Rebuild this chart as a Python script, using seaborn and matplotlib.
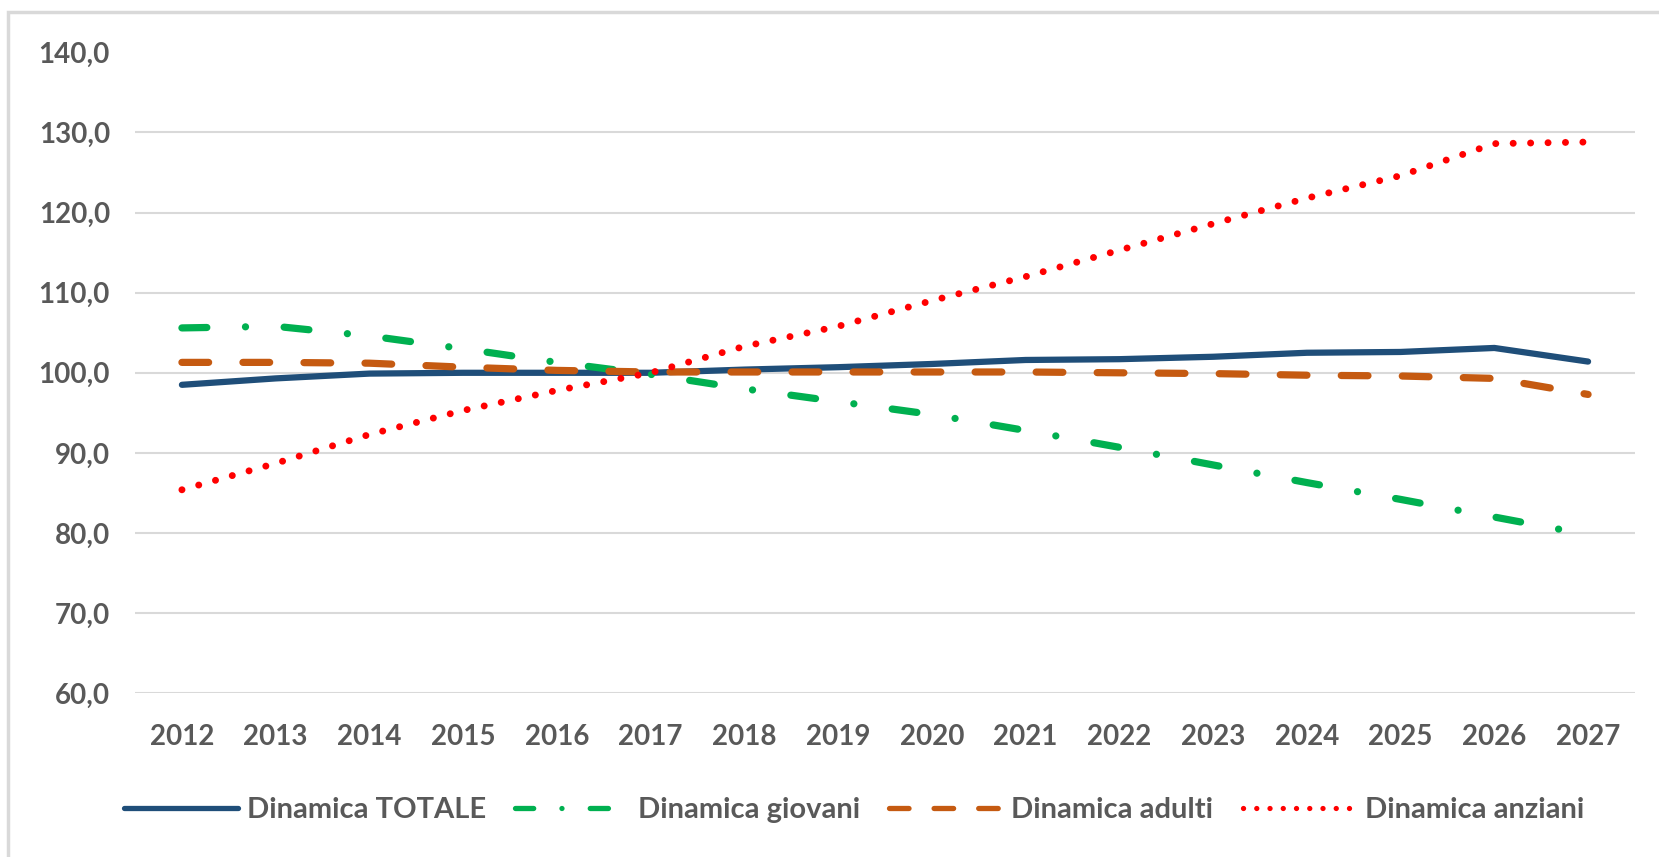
import seaborn as sns
import matplotlib.pyplot as plt
import matplotlib.patches as mpatches
import pandas as pd
import numpy as np

# --- Data ---
years = [str(y) for y in range(2012, 2028)]
totale = [98.5, 99.3, 99.9, 100.0, 100.0, 100.0, 100.4, 100.7, 101.1, 101.6,
          101.7, 102.0, 102.5, 102.6, 103.1, 101.4]
giovani = [105.6, 105.8, 104.6, 103.0, 101.3, 99.8, 98.0, 96.4, 94.8, 92.8,
           90.7, 88.5, 86.3, 84.2, 82.0, 79.8]
adulti = [101.3, 101.3, 101.2, 100.7, 100.3, 100.1, 100.1, 100.1, 100.1, 100.1,
          100.0, 99.9, 99.7, 99.6, 99.3, 97.3]
anziani = [85.4, 88.7, 92.3, 95.3, 97.8, 100.0, 103.3, 105.8, 109.0, 112.0,
           115.3, 118.6, 121.8, 124.6, 128.6, 128.8]

series_names = ["Dinamica TOTALE", "Dinamica giovani", "Dinamica adulti", "Dinamica anziani"]
series_vals = [totale, giovani, adulti, anziani]

df = pd.DataFrame({
    "Anno": np.tile(years, len(series_names)),
    "Valore": np.concatenate(series_vals),
    "Serie": np.repeat(series_names, len(years)),
})

palette = {
    "Dinamica TOTALE": "#1F4E79",
    "Dinamica giovani": "#00B050",
    "Dinamica adulti": "#C55A11",
    "Dinamica anziani": "#FF0000",
}
dashes = {
    "Dinamica TOTALE": "",
    "Dinamica giovani": (3.45, 5.35, 0.01, 5.35),
    "Dinamica adulti": (3.7, 4.75),
    "Dinamica anziani": (0.01, 2.5),
}
widths = {
    "Dinamica TOTALE": 4.5,
    "Dinamica giovani": 5.2,
    "Dinamica adulti": 5.2,
    "Dinamica anziani": 5.0,
}

# --- Styling ---
sns.set_style("white")
plt.rcParams["font.family"] = ["Lato", "DejaVu Sans"]
plt.rcParams["font.weight"] = "bold"
text_color = "#595959"
fs = 20

fig = plt.figure(figsize=(16.59, 8.57), dpi=100)
ax = fig.add_axes([0.0814, 0.191, 0.9041, 0.748])

sns.lineplot(data=df, x="Anno", y="Valore", hue="Serie", style="Serie",
             palette=palette, dashes=dashes, linewidth=4.5, ax=ax,
             sort=False, dash_capstyle="round", solid_capstyle="round")

for line, name in zip(ax.lines, series_names):
    line.set_linewidth(widths[name])

ax.set_ylim(60, 140)
ax.set_xlim(-0.5, len(years) - 0.5)
ax.set_yticks(np.arange(60, 141, 10))
ax.set_yticklabels([f"{v:.1f}".replace(".", ",") for v in np.arange(60, 141, 10)])
ax.set_xlabel("")
ax.set_ylabel("")
ax.tick_params(axis="both", length=0, labelsize=fs, labelcolor=text_color)
ax.tick_params(axis="y", pad=18)
ax.tick_params(axis="x", pad=22)
for s in ax.spines.values():
    s.set_visible(False)

ax.yaxis.grid(True, color="#D9D9D9", linewidth=1.5)
ax.set_axisbelow(True)
ax.get_ygridlines()[-1].set_visible(False)

handles, labels = ax.get_legend_handles_labels()
ax.legend_.remove()
leg = fig.legend(handles, labels, loc="center", bbox_to_anchor=(0.515, 0.055),
                 ncol=4, frameon=False, fontsize=21, labelcolor=text_color,
                 handlelength=3.9, handletextpad=0.3, columnspacing=1.0)
for hl in leg.get_lines():
    hl.set_linewidth(3.8)

# chart area border (only top and left edges visible)
fig.patches.append(mpatches.Rectangle((8 / 1659, -0.1), 1.2, 1.1 - 12 / 857,
                                      transform=fig.transFigure, fill=False,
                                      edgecolor="#D9D9D9", linewidth=2.5))

plt.savefig("out.png", dpi=100)
plt.close()
